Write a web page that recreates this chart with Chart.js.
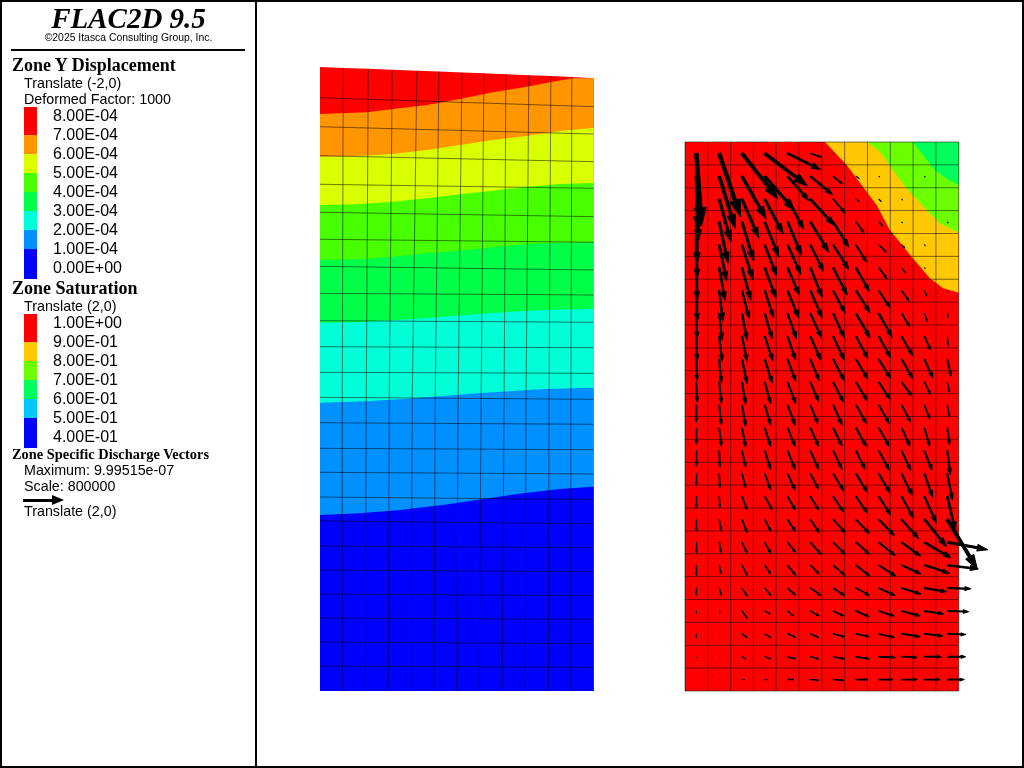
<!DOCTYPE html>
<html>
<head>
<meta charset="utf-8">
<title>FLAC2D 9.5</title>
<script src="https://cdn.jsdelivr.net/npm/chart.js@4"></script>
<style>
html, body { margin: 0; padding: 0; background: #fff; overflow: hidden; }
#page { position: relative; width: 1024px; height: 768px; }
#plot { position: absolute; left: 0; top: 0; }
#page div { position: absolute; white-space: nowrap; line-height: 1; color: #000; }
.sans { font-family: "Liberation Sans", Arial, sans-serif; }
.serif { font-family: "Liberation Serif", "Times New Roman", serif; font-weight: bold; }
</style>
</head>
<body>
<div id="page"><canvas id="plot" width="1024" height="768"></canvas></div>
<script>
// legend text
const dispTicks = ['8.00E-04', '7.00E-04', '6.00E-04', '5.00E-04', '4.00E-04', '3.00E-04', '2.00E-04', '1.00E-04', '0.00E+00'];
const dispColors = ['#ff0000', '#ff9600', '#d9ff00', '#48ff00', '#00ff48', '#00ffd9', '#0090ff', '#0000ff'];
const satTicks = ['1.00E+00', '9.00E-01', '8.00E-01', '7.00E-01', '6.00E-01', '5.00E-01', '4.00E-01'];
const satColors = ['#ff0000', '#ffc800', '#6cff00', '#00ff5c', '#00c8ff', '#0000ff'];

// deformed mesh of the displacement plot (m, before the translate)
const meshLeftY = [0, 0.273, 0.536, 0.798, 1.060, 1.322, 1.585, 1.858, 2.120, 2.390, 2.652, 2.932, 3.210, 3.483, 3.763, 4.047, 4.346, 4.641, 4.937, 5.232, 5.538, 5.850, 6.167, 6.484, 6.820];
const meshRightY = [0, 0.259, 0.517, 0.784, 1.042, 1.304, 1.566, 1.828, 2.093, 2.372, 2.637, 2.915, 3.188, 3.472, 3.752, 4.030, 4.328, 4.601, 4.904, 5.184, 5.494, 5.785, 6.087, 6.386, 6.697];
const meshBottomX = [0, 0.244, 0.496, 0.748, 1.0, 1.248, 1.497, 1.744, 1.996, 2.248, 2.503, 2.75, 3];
const meshMiddleX = [0, 0.244, 0.507, 0.759, 1.011, 1.263, 1.514, 1.766, 2.018, 2.258, 2.510, 2.75, 3];
const meshTopX = [0, 0.255, 0.529, 0.792, 1.062, 1.303, 1.555, 1.796, 2.037, 2.289, 2.530, 2.760, 3];
const meshTopY = [6.82, 6.81, 6.80, 6.79, 6.78, 6.77, 6.76, 6.75, 6.74, 6.73, 6.72, 6.71, 6.697];
const meshMiddleY = 3.2;

// displacement contours, high to low
const c7x = [0, 0.515, 0.799, 1.171, 1.533, 1.894, 2.266, 2.518, 2.770, 3];
const c7y = [6.306, 6.325, 6.361, 6.404, 6.470, 6.543, 6.604, 6.653, 6.696, 6.697];
const c6x = [0, 0.471, 0.799, 1.171, 1.533, 1.894, 2.266, 2.628, 3];
const c6y = [5.839, 5.850, 5.869, 5.913, 5.967, 6.022, 6.066, 6.120, 6.153];
const c5x = [0, 0.405, 0.799, 1.171, 1.533, 1.894, 2.266, 2.628, 3];
const c5y = [5.311, 5.319, 5.348, 5.385, 5.428, 5.468, 5.512, 5.541, 5.552];
const c4x = [0, 0.515, 0.799, 1.171, 1.533, 1.894, 2.266, 2.628, 3];
const c4y = [4.710, 4.721, 4.746, 4.784, 4.812, 4.849, 4.885, 4.899, 4.904];
const c3x = [0, 0.402, 0.840, 1.168, 1.460, 1.788, 2.117, 2.445, 3];
const c3y = [4.025, 4.030, 4.055, 4.073, 4.098, 4.123, 4.145, 4.164, 4.175];
const c2x = [0, 0.511, 0.912, 1.314, 1.716, 2.117, 2.445, 3];
const c2y = [3.151, 3.166, 3.191, 3.221, 3.254, 3.279, 3.301, 3.315];
const c1x = [0, 0.438, 0.876, 1.350, 1.788, 2.226, 2.628, 3];
const c1y = [1.923, 1.942, 1.978, 2.033, 2.098, 2.161, 2.208, 2.233];

// saturation contours
const s9x = [1.533, 1.770, 1.935, 2.099, 2.245, 2.482, 2.683, 2.828, 3];
const s9y = [6, 5.749, 5.530, 5.311, 5.038, 4.746, 4.510, 4.401, 4.353];
const s8x = [1.996, 2.135, 2.263, 2.427, 2.646, 2.792, 3];
const s8y = [6, 5.894, 5.712, 5.494, 5.257, 5.111, 5.009];
const s7x = [2.5, 2.609, 2.737, 2.865, 3];
const s7y = [6, 5.858, 5.694, 5.603, 5.530];

// undeformed zones of the saturation plot
const gridX = [0, 0.25, 0.5, 0.75, 1, 1.25, 1.5, 1.75, 2, 2.25, 2.5, 2.75, 3];
const gridY = [0, 0.25, 0.5, 0.75, 1, 1.25, 1.5, 1.75, 2, 2.25, 2.5, 2.75, 3, 3.25, 3.5, 3.75, 4, 4.25, 4.5, 4.75, 5, 5.25, 5.5, 5.75, 6];
const centerX = [0.125, 0.375, 0.625, 0.875, 1.125, 1.375, 1.625, 1.875, 2.125, 2.375, 2.625, 2.875];
const centerY = [5.875, 5.625, 5.375, 5.125, 4.875, 4.625, 4.375, 4.125, 3.875, 3.625, 3.375, 3.125, 2.875, 2.625, 2.375, 2.125, 1.875, 1.625, 1.375, 1.125, 0.875, 0.625, 0.375, 0.125];

// specific discharge per zone, 1e-8 m/s, top row first (y is downward flow)
const qxRows = [
  [7, 29, 49, 58, 45, 15, 1, 0, 0, 0, 0, 0],
  [3, 22, 33, 41, 29, 30, 12, 4, 1, 0, 1, 0],
  [3, 16, 23, 25, 22, 33, 16, 4, 3, 1, 0, 0],
  [1, 12, 16, 19, 19, 25, 21, 11, 5, 1, 0, 1],
  [1, 10, 15, 16, 18, 18, 21, 14, 10, 4, 1, 0],
  [1, 8, 12, 15, 16, 16, 19, 18, 11, 5, 1, 0],
  [1, 5, 10, 12, 15, 16, 16, 19, 15, 10, 3, 1],
  [1, 4, 7, 10, 12, 15, 15, 19, 18, 11, 4, 1],
  [1, 4, 7, 11, 11, 14, 15, 16, 16, 15, 8, 1],
  [1, 3, 7, 10, 11, 12, 15, 16, 16, 15, 11, 5],
  [1, 3, 5, 8, 11, 11, 14, 15, 15, 14, 8, 3],
  [0, 3, 5, 8, 10, 10, 12, 14, 14, 12, 7, 3],
  [0, 3, 5, 8, 10, 11, 12, 14, 14, 11, 7, 3],
  [0, 1, 5, 8, 10, 11, 12, 12, 14, 12, 10, 4],
  [0, 1, 5, 8, 10, 11, 14, 15, 15, 14, 11, 7],
  [0, 1, 7, 10, 10, 11, 14, 15, 16, 16, 16, 11],
  [0, 3, 7, 8, 10, 12, 16, 18, 21, 23, 30, 41],
  [0, 3, 7, 8, 11, 14, 16, 18, 22, 26, 36, 55],
  [0, 3, 7, 8, 11, 12, 16, 19, 23, 26, 34, 42],
  [0, 3, 7, 8, 11, 14, 15, 18, 22, 26, 30, 32],
  [0, 1, 7, 7, 8, 12, 14, 18, 21, 25, 26, 29],
  [0, 1, 7, 8, 11, 11, 15, 18, 21, 25, 25, 25],
  [0, 1, 5, 8, 11, 11, 15, 18, 22, 21, 23, 25],
  [0, 1, 3, 4, 8, 11, 14, 16, 19, 21, 21, 23]
];
const qyRows = [
  [99, 86, 62, 44, 22, 5, 1, 0, 0, 0, 0, 0],
  [74, 71, 58, 47, 33, 25, 10, 3, 1, 0, 1, 0],
  [56, 58, 53, 47, 41, 36, 19, 3, 3, 1, 0, 0],
  [56, 56, 53, 47, 45, 41, 34, 15, 5, 1, 0, 1],
  [45, 49, 47, 42, 40, 36, 33, 23, 10, 4, 1, 0],
  [44, 45, 44, 41, 37, 40, 37, 32, 15, 7, 1, 0],
  [42, 41, 38, 37, 37, 37, 30, 30, 23, 14, 7, 1],
  [34, 36, 36, 34, 34, 33, 33, 33, 32, 18, 11, 5],
  [33, 34, 34, 33, 32, 32, 32, 30, 29, 26, 18, 12],
  [29, 32, 33, 32, 30, 29, 29, 27, 26, 26, 25, 23],
  [27, 29, 30, 29, 29, 26, 27, 25, 23, 19, 16, 14],
  [23, 27, 29, 27, 27, 25, 27, 25, 25, 23, 19, 16],
  [22, 25, 26, 25, 25, 25, 25, 25, 25, 25, 25, 23],
  [21, 22, 22, 25, 25, 25, 25, 25, 26, 26, 26, 32],
  [15, 19, 19, 22, 22, 21, 23, 25, 26, 29, 32, 36],
  [15, 15, 18, 18, 18, 18, 21, 22, 25, 29, 36, 47],
  [16, 16, 18, 16, 16, 18, 18, 19, 22, 26, 37, 68],
  [15, 15, 15, 15, 14, 16, 16, 16, 18, 19, 21, 10],
  [14, 12, 14, 12, 14, 12, 14, 15, 15, 12, 11, 5],
  [10, 10, 11, 10, 10, 10, 10, 10, 10, 8, 5, 1],
  [3, 3, 10, 4, 7, 7, 7, 8, 7, 7, 4, 1],
  [5, 0, 5, 5, 5, 5, 4, 4, 5, 4, 3, 1],
  [1, 0, 3, 3, 3, 3, 3, 3, 1, 1, 0, 0],
  [0, 0, 0, 0, 0, 1, 1, 0, 0, 0, 0, 0]
];

const dispShift = -2;
const satShift = 2;
const vectorScale = 800000;
const meshColor = 'rgba(0,0,0,0.5)';

function pts(xs, ys, shift) {
  return xs.map(function(x, i) { return { x: x + shift, y: ys[i] }; });
}

function shape(points, color, border) {
  return { data: points, backgroundColor: color, borderColor: color, borderWidth: border || 0, borderJoinStyle: 'round', fill: 'shape' };
}

function line(points) {
  return { data: points, borderColor: meshColor, borderWidth: 1, fill: false };
}

// contour down to the bottom of the panel, painted over the band above it
function bandBelow(xs, ys, color) {
  let p = pts(xs, ys, dispShift);
  p.push({ x: 3 + dispShift, y: 0 }, { x: dispShift, y: 0 });
  return shape(p, color);
}

// region above a saturation contour, closed at the top right corner
function bandAbove(xs, ys, color) {
  let p = pts(xs, ys, satShift);
  p.push({ x: 3 + satShift, y: 6 });
  return shape(p, color);
}

function arrow(x0, y0, qx, qy) {
  let dx = qx * 1e-8 * vectorScale;
  let dy = -qy * 1e-8 * vectorScale;
  let len = Math.hypot(dx, dy);
  let ux = dx / len, uy = dy / len;
  let nx = -uy, ny = ux;
  let s = 0.024 * len, w = 0.08 * len, h = 0.25 * len;
  let nk = { x: x0 + dx - ux * h, y: y0 + dy - uy * h };
  return shape([
    { x: x0 + nx * s, y: y0 + ny * s },
    { x: nk.x + nx * s, y: nk.y + ny * s },
    { x: nk.x + nx * w, y: nk.y + ny * w },
    { x: x0 + dx, y: y0 + dy },
    { x: nk.x - nx * w, y: nk.y - ny * w },
    { x: nk.x - nx * s, y: nk.y - ny * s },
    { x: x0 - nx * s, y: y0 - ny * s },
    { x: x0 + nx * s, y: y0 + ny * s }
  ], '#000', 1.1);
}

let layers = [];

// displacement plot
let outline = [{ x: dispShift, y: 0 }, { x: 3 + dispShift, y: 0 }].concat(pts(meshTopX.slice().reverse(), meshTopY.slice().reverse(), dispShift));
layers.push(shape(outline, dispColors[0]));
layers.push(bandBelow(c7x, c7y, dispColors[1]));
layers.push(bandBelow(c6x, c6y, dispColors[2]));
layers.push(bandBelow(c5x, c5y, dispColors[3]));
layers.push(bandBelow(c4x, c4y, dispColors[4]));
layers.push(bandBelow(c3x, c3y, dispColors[5]));
layers.push(bandBelow(c2x, c2y, dispColors[6]));
layers.push(bandBelow(c1x, c1y, dispColors[7]));
meshLeftY.forEach(function(y, i) {
  if (i === 0 || i === meshLeftY.length - 1) return;
  layers.push(line([{ x: dispShift, y: y }, { x: 3 + dispShift, y: meshRightY[i] }]));
});
meshBottomX.forEach(function(x, i) {
  if (i === 0 || i === meshBottomX.length - 1) return;
  layers.push(line([
    { x: x + dispShift, y: 0 },
    { x: meshMiddleX[i] + dispShift, y: meshMiddleY },
    { x: meshTopX[i] + dispShift, y: meshTopY[i] }
  ]));
});

// saturation plot
layers.push(shape([
  { x: satShift, y: 0 }, { x: 3 + satShift, y: 0 }, { x: 3 + satShift, y: 6 }, { x: satShift, y: 6 }
], satColors[0]));
layers.push(bandAbove(s9x, s9y, satColors[1]));
layers.push(bandAbove(s8x, s8y, satColors[2]));
layers.push(bandAbove(s7x, s7y, satColors[3]));
gridY.forEach(function(y) {
  layers.push(line([{ x: satShift, y: y }, { x: 3 + satShift, y: y }]));
});
gridX.forEach(function(x) {
  layers.push(line([{ x: x + satShift, y: 0 }, { x: x + satShift, y: 6 }]));
});

// discharge vectors start at the zone centres
qxRows.forEach(function(row, j) {
  row.forEach(function(qx, i) {
    let qy = qyRows[j][i];
    if (qx === 0 && qy === 0) return;
    layers.push(arrow(centerX[i] + satShift, centerY[j], qx, qy));
  });
});

// chart.js paints the first dataset last
layers.reverse();

new Chart(document.getElementById('plot').getContext('2d'), {
  type: 'scatter',
  data: { datasets: layers },
  options: {
    responsive: false,
    animation: false,
    showLine: true,
    layout: { padding: 0 },
    elements: { point: { radius: 0 }, line: { tension: 0 } },
    plugins: { legend: { display: false }, tooltip: { enabled: false } },
    scales: {
      x: { type: 'linear', display: false, min: -5.5068, max: 5.7151 },
      y: { type: 'linear', display: false, min: -0.8415, max: 7.5519 }
    }
  }
});

// sidebar
const page = document.getElementById('page');

function box(left, top, width, height, color) {
  let d = document.createElement('div');
  d.style.cssText = 'left:' + left + 'px;top:' + top + 'px;width:' + width + 'px;height:' + height + 'px;background:' + color;
  page.appendChild(d);
}

function text(str, left, middle, size, cls, extra) {
  let d = document.createElement('div');
  d.textContent = str;
  d.className = cls;
  d.style.cssText = 'left:' + left + 'px;top:' + (middle - size / 2) + 'px;font-size:' + size + 'px;' + (extra || '');
  page.appendChild(d);
}

function colorBar(edges, colors) {
  colors.forEach(function(c, i) {
    box(24, edges[i], 13, edges[i + 1] - edges[i], c);
  });
}

box(0, 0, 1024, 2, '#000');
box(0, 766, 1024, 2, '#000');
box(0, 0, 2, 768, '#000');
box(1022, 0, 2, 768, '#000');
box(255, 0, 2, 768, '#000');
box(11, 49, 234, 2, '#000');

text('FLAC2D 9.5', 0, 18, 29, 'serif', 'width:257px;text-align:center;font-style:italic;');
text('©2025 Itasca Consulting Group, Inc.', 0, 38.5, 10.4, 'sans', 'width:257px;text-align:center;');

text('Zone Y Displacement', 12, 65, 18, 'serif');
text('Translate (-2,0)', 24, 83, 14.3, 'sans');
text('Deformed Factor: 1000', 24, 99, 14.3, 'sans');
colorBar([107, 135, 154, 173, 192, 211, 230, 249, 279], dispColors);
dispTicks.forEach(function(t, i) { text(t, 53, 116 + i * 19, 16, 'sans'); });

text('Zone Saturation', 12, 288, 18, 'serif');
text('Translate (2,0)', 24, 306, 14.3, 'sans');
colorBar([314, 342, 361, 380, 399, 418, 448], satColors);
satTicks.forEach(function(t, i) { text(t, 53, 323 + i * 19, 16, 'sans'); });

text('Zone Specific Discharge Vectors', 12, 454, 14.4, 'serif');
text('Maximum: 9.99515e-07', 24, 470, 14.3, 'sans');
text('Scale: 800000', 24, 486, 14.3, 'sans');
box(23, 499, 32, 3, '#000');
let head = document.createElement('div');
head.style.cssText = 'left:52px;top:495px;width:0;height:0;border-left:12px solid #000;border-top:5px solid transparent;border-bottom:5px solid transparent;';
page.appendChild(head);
text('Translate (2,0)', 24, 511, 14.3, 'sans');
</script>
</body>
</html>
